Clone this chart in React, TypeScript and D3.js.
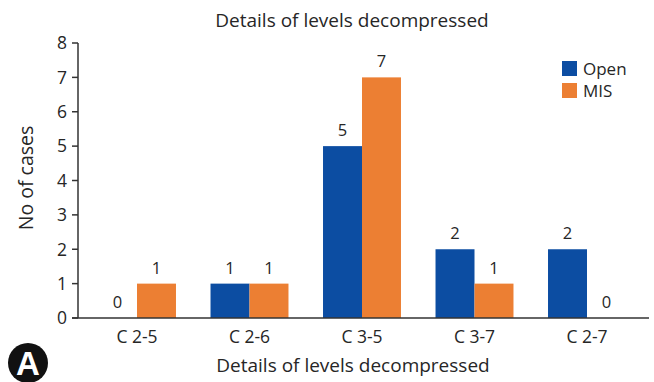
import React from "react";
import * as d3 from "d3";

const categories = ["C 2-5", "C 2-6", "C 3-5", "C 3-7", "C 2-7"];
const seriesNames = ["Open", "MIS"];
const openValues = [0, 1, 5, 2, 2];
const misValues = [1, 1, 7, 1, 0];
const yTicks = [0, 1, 2, 3, 4, 5, 6, 7, 8];
const colors = ["#0c4da2", "#ec7f33"];

const W = 654;
const H = 382;
const FONT = "'Open Sans', 'Noto Sans', sans-serif";
const TXT = "#262626";

export default function App() {
  const x0 = d3
    .scaleBand<string>()
    .domain(categories)
    .range([80.75, 643.25])
    .paddingInner(0.307)
    .paddingOuter(0.1535);
  const x1 = d3.scaleBand<string>().domain(seriesNames).range([0, x0.bandwidth()]);
  const y = d3.scaleLinear().domain([0, 8]).range([318, 43]);

  const data = categories.map((c, i) => ({
    cat: c,
    vals: [openValues[i], misValues[i]],
  }));

  return (
    <svg
      width={W}
      height={H}
      style={{ position: "absolute", left: 0, top: 0, background: "#fff" }}
      fontFamily={FONT}
    >
      <text x={352} y={27} textAnchor="middle" fontSize={19} fill={TXT}>
        Details of levels decompressed
      </text>

      {data.map((d) =>
        d.vals.map((v, j) => {
          const bx = (x0(d.cat) as number) + (x1(seriesNames[j]) as number);
          const bw = x1.bandwidth();
          return (
            <g key={d.cat + j}>
              <rect x={bx} y={y(v)} width={bw} height={y(0) - y(v)} fill={colors[j]} />
              <text
                x={bx + bw / 2}
                y={y(v) - 10}
                textAnchor="middle"
                fontSize={16.5}
                fill={TXT}
              >
                {v}
              </text>
            </g>
          );
        })
      )}

      {/* axes */}
      <line x1={78} x2={78} y1={y(8)} y2={y(0)} stroke="#333" strokeWidth={1.5} />
      <line x1={72} x2={649} y1={y(0)} y2={y(0)} stroke="#333" strokeWidth={1.5} />
      {yTicks.map((t) => (
        <g key={t}>
          <line x1={72} x2={78} y1={y(t)} y2={y(t)} stroke="#333" strokeWidth={1.5} />
          <text x={67} y={y(t)} dy="0.36em" textAnchor="end" fontSize={17.5} fill={TXT}>
            {t}
          </text>
        </g>
      ))}
      {categories.map((c) => (
        <text
          key={c}
          x={(x0(c) as number) + x0.bandwidth() / 2}
          y={343}
          textAnchor="middle"
          fontSize={17.5}
          fill={TXT}
        >
          {c}
        </text>
      ))}

      <text x={353} y={372} textAnchor="middle" fontSize={19} fill={TXT}>
        Details of levels decompressed
      </text>
      <text
        transform="translate(33,178) rotate(-90)"
        textAnchor="middle"
        fontSize={19.5}
        fill={TXT}
      >
        No of cases
      </text>

      {/* legend */}
      {seriesNames.map((s, i) => (
        <g key={s} transform={`translate(562,${61 + i * 22})`}>
          <rect width={15} height={15} fill={colors[i]} />
          <text x={21} y={14} fontSize={17} fill={TXT}>
            {s}
          </text>
        </g>
      ))}

      {/* panel badge */}
      <circle cx={28} cy={363} r={20} fill="#111" />
      <text
        x={28}
        y={375}
        textAnchor="middle"
        fontSize={33}
        fontWeight="bold"
        fill="#fff"
        stroke="#111"
        strokeWidth={1.5}
        paintOrder="stroke"
        fontFamily="'Liberation Sans', Arial, sans-serif"
      >
        A
      </text>
    </svg>
  );
}
